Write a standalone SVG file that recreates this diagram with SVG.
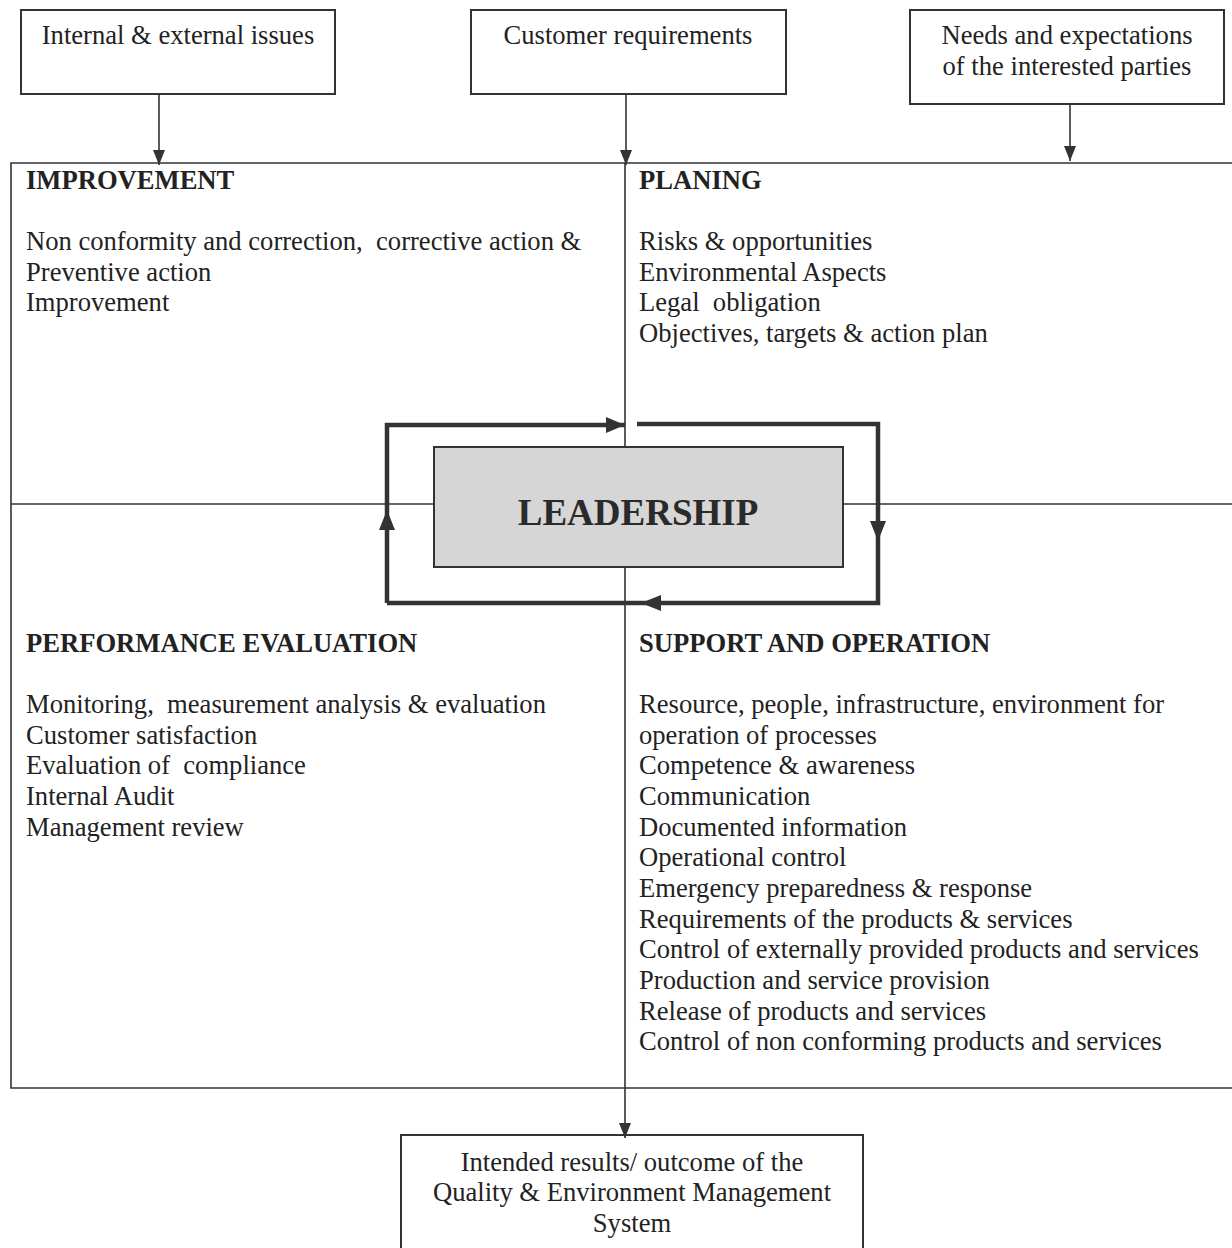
<svg xmlns="http://www.w3.org/2000/svg" width="1232" height="1248" viewBox="0 0 1232 1248">
<style>
.box{fill:#fff;stroke:#333;stroke-width:2}
.thin{fill:none;stroke:#333;stroke-width:1.6}
.loop{fill:none;stroke:#333;stroke-width:4.5;stroke-linejoin:miter}
.ah{fill:#333}
text{font-family:"Liberation Serif","Times New Roman",serif;font-size:26.6px;fill:#222;white-space:pre}
.c{text-anchor:middle}
.h{font-weight:bold}
.lead{font-weight:bold;font-size:37px;text-anchor:middle;fill:#2a2a2a}
</style>
<defs>
<marker id="arr" markerUnits="userSpaceOnUse" markerWidth="16" markerHeight="14" refX="15" refY="7" orient="auto" viewBox="0 0 16 14">
<path d="M0,1 L15,7 L0,13 Z" fill="#333"/>
</marker>
<marker id="arrd" markerUnits="userSpaceOnUse" markerWidth="20" markerHeight="18" refX="19" refY="9" orient="auto" viewBox="0 0 20 18">
<path d="M0,1 L19,9 L0,17 Z" fill="#333"/>
</marker>
</defs>
<rect width="1232" height="1248" fill="#fff"/>

<g id="frame">
<path class="thin" d="M1232,163 H11 V1088 H1232"/>
<path class="thin" d="M11,504 H434 M843,504 H1232"/>
<path class="thin" d="M625,163 V447"/>
</g>

<g id="n-internal">
<rect class="box" x="21" y="10" width="314" height="84"/>
<text class="c" x="178" y="44">Internal &amp; external issues</text>
</g>
<g id="n-customer">
<rect class="box" x="471" y="10" width="315" height="84"/>
<text class="c" x="628" y="44">Customer requirements</text>
</g>
<g id="n-needs">
<rect class="box" x="910" y="10" width="314" height="94"/>
<text class="c" x="1067" y="44">Needs and expectations</text>
<text class="c" x="1067" y="75">of the interested parties</text>
</g>

<g id="n-improvement">
<text class="h" x="26" y="189">IMPROVEMENT</text>
<text x="26" y="250">Non conformity and correction,  corrective action &amp;</text>
<text x="26" y="281">Preventive action</text>
<text x="26" y="311">Improvement</text>
</g>
<g id="n-planing">
<text class="h" x="639" y="189">PLANING</text>
<text x="639" y="250">Risks &amp; opportunities</text>
<text x="639" y="281">Environmental Aspects</text>
<text x="639" y="311">Legal  obligation</text>
<text x="639" y="342">Objectives, targets &amp; action plan</text>
</g>
<g id="n-performance">
<text class="h" x="26" y="652">PERFORMANCE EVALUATION</text>
<text x="26" y="713">Monitoring,  measurement analysis &amp; evaluation</text>
<text x="26" y="744">Customer satisfaction</text>
<text x="26" y="774">Evaluation of  compliance</text>
<text x="26" y="805">Internal Audit</text>
<text x="26" y="836">Management review</text>
</g>
<g id="n-support">
<text class="h" x="639" y="652">SUPPORT AND OPERATION</text>
<text x="639" y="713">Resource, people, infrastructure, environment for</text>
<text x="639" y="744">operation of processes</text>
<text x="639" y="774">Competence &amp; awareness</text>
<text x="639" y="805">Communication</text>
<text x="639" y="836">Documented information</text>
<text x="639" y="866">Operational control</text>
<text x="639" y="897">Emergency preparedness &amp; response</text>
<text x="639" y="928">Requirements of the products &amp; services</text>
<text x="639" y="958">Control of externally provided products and services</text>
<text x="639" y="989">Production and service provision</text>
<text x="639" y="1020">Release of products and services</text>
<text x="639" y="1050">Control of non conforming products and services</text>
</g>

<g id="n-leadership">
<rect x="434" y="447" width="409" height="120" fill="#d6d6d6" stroke="#333" stroke-width="2"/>
<text class="lead" x="638" y="525">LEADERSHIP</text>
</g>

<g id="n-results">
<rect class="box" x="401" y="1135" width="462" height="125"/>
<text class="c" x="632" y="1171">Intended results/ outcome of the</text>
<text class="c" x="632" y="1201">Quality &amp; Environment Management</text>
<text class="c" x="632" y="1232">System</text>
</g>

<g id="connectors">
<line class="thin" x1="159" y1="94" x2="159" y2="165" marker-end="url(#arr)"/>
<line class="thin" x1="626" y1="94" x2="626" y2="165" marker-end="url(#arr)"/>
<line class="thin" x1="1070" y1="104" x2="1070" y2="161" marker-end="url(#arr)"/>
<line class="thin" x1="625" y1="567" x2="625" y2="1138" marker-end="url(#arr)"/>
<path class="loop" d="M387,603 V425 H625" marker-end="url(#arrd)"/>
<path class="loop" d="M637,424 H878 V603 H387"/>
<polygon class="ah" points="870,521 886,521 878,541"/>
<polygon class="ah" points="379,530 395,530 387,510"/>
<polygon class="ah" points="661,595 661,611 641,603"/>
</g>
</svg>
